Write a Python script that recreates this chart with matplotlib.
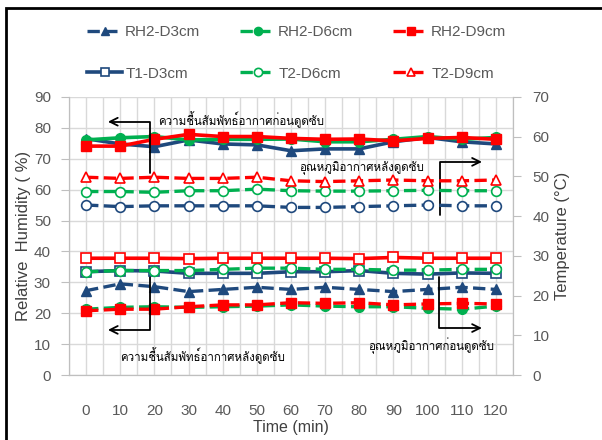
import numpy as np
import matplotlib
matplotlib.use("Agg")
import matplotlib.pyplot as plt
from matplotlib import font_manager
from matplotlib.patches import Rectangle

# เวลา (นาที)
time_min = [0, 10, 20, 30, 40, 50, 60, 70, 80, 90, 100, 110, 120]

# ความชื้นสัมพัทธ์ก่อนดูดซับ (%)
rh1_d3 = [76.5, 74.8, 73.9, 76.1, 74.8, 74.5, 72.6, 73.2, 73.2, 75.5, 76.9, 75.5, 74.8]
rh1_d6 = [76.1, 76.8, 77.2, 76.1, 76.3, 76.3, 76.4, 75.5, 75.5, 76.3, 77.2, 76.3, 76.9]
rh1_d9 = [74.1, 74.1, 76.3, 77.9, 77.2, 77.2, 76.6, 76.3, 76.4, 75.8, 76.6, 76.9, 76.3]

# ความชื้นสัมพัทธ์หลังดูดซับ (%)
rh2_d3 = [27.3, 29.5, 28.6, 27.0, 27.7, 28.4, 27.7, 28.4, 27.7, 27.0, 27.7, 28.4, 27.7]
rh2_d6 = [21.3, 21.9, 22.1, 21.9, 22.1, 22.3, 22.7, 22.3, 22.1, 22.1, 21.6, 21.3, 22.3]
rh2_d9 = [20.8, 21.3, 21.3, 22.1, 22.7, 22.7, 23.4, 23.2, 23.4, 22.7, 23.0, 23.2, 23.0]

# อุณหภูมิก่อนดูดซับ (°C)
t1_d3 = [26.0, 26.3, 26.2, 25.6, 25.6, 25.6, 26.0, 26.0, 26.3, 25.6, 25.4, 25.7, 25.6]
t1_d6 = [26.0, 26.3, 26.3, 26.3, 26.6, 26.9, 26.9, 26.6, 26.6, 26.4, 26.4, 26.6, 26.6]
t1_d9 = [29.4, 29.4, 29.4, 29.3, 29.4, 29.4, 29.4, 29.4, 29.3, 29.6, 29.4, 29.4, 29.4]

# อุณหภูมิหลังดูดซับ (°C)
t2_d3 = [42.8, 42.4, 42.6, 42.6, 42.6, 42.6, 42.2, 42.2, 42.4, 42.6, 42.8, 42.6, 42.6]
t2_d6 = [46.2, 46.2, 46.0, 46.4, 46.4, 46.8, 46.4, 46.3, 46.3, 46.4, 46.5, 46.4, 46.4]
t2_d9 = [49.8, 49.5, 49.8, 49.5, 49.5, 49.8, 48.9, 48.7, 48.9, 49.1, 48.9, 48.9, 49.1]

BLUE = "#1F497D"
GREEN = "#00B050"
RED = "#FF0000"
GRAY_TXT = "#595959"


def thai_family():
    """หาฟอนต์ที่มีตัวอักษรไทย (ถ้ามี)"""
    names = {f.name for f in font_manager.fontManager.ttflist}
    if "Loma" in names:
        return "Loma"
    try:
        from fontTools.ttLib import TTFont
    except ImportError:
        return None
    for f in font_manager.fontManager.ttflist:
        try:
            cmap = TTFont(f.fname, fontNumber=0, lazy=True).getBestCmap()
        except Exception:
            continue
        if cmap and 0x0E01 in cmap:
            return f.name
    return None


latin = ["Liberation Sans", "DejaVu Sans"]
th = thai_family()
thai_fam = ([th] if th else []) + ["DejaVu Sans"]
plt.rcParams["font.family"] = latin

fig = plt.figure(figsize=(6.02, 4.40), dpi=100)
ax = fig.add_axes([69 / 602, 1 - 375 / 440, 444 / 602, 278 / 440])
ax2 = ax.twinx()

lw_solid = 2.6
lw_dash = 2.4
ms = 7

# ก่อนดูดซับ (ไม่มีใน legend)
ax.plot(time_min, rh1_d3, "-", color=BLUE, lw=lw_solid, marker="^", ms=ms)
ax.plot(time_min, rh1_d6, "-", color=GREEN, lw=lw_solid, marker="o", ms=ms)
ax.plot(time_min, rh1_d9, "-", color=RED, lw=lw_solid, marker="s", ms=ms)

# หลังดูดซับ
l_rh2_d3, = ax.plot(time_min, rh2_d3, "--", color=BLUE, lw=lw_dash, marker="^", ms=ms)
l_rh2_d6, = ax.plot(time_min, rh2_d6, "--", color=GREEN, lw=lw_dash, marker="o", ms=ms)
l_rh2_d9, = ax.plot(time_min, rh2_d9, "--", color=RED, lw=lw_dash, marker="s", ms=ms)

# อุณหภูมิ (แกนขวา)
ow = dict(ms=ms, mfc="white", mew=1.2)
l_t1_d3, = ax2.plot(time_min, t1_d3, "-", color=BLUE, lw=lw_solid, marker="s", **ow)
ax2.plot(time_min, t1_d6, "--", color=GREEN, lw=lw_dash, marker="o", **ow)
ax2.plot(time_min, t1_d9, "-", color=RED, lw=lw_solid, marker="s", **ow)
ax2.plot(time_min, t2_d3, "--", color=BLUE, lw=lw_dash, marker="o", **ow)
l_t2_d6, = ax2.plot(time_min, t2_d6, "--", color=GREEN, lw=lw_dash, marker="o", **ow)
l_t2_d9, = ax2.plot(time_min, t2_d9, "--", color=RED, lw=lw_dash, marker="^", **ow)

# แกน
ax.set_xlim(-5, 125)
ax.set_ylim(0, 90)
ax2.set_ylim(0, 70)
ax.set_xticks(time_min)
ax.set_xticks(np.arange(-5, 126, 10), minor=True)
ax.set_yticks(np.arange(0, 91, 10))
ax2.set_yticks(np.arange(0, 71, 10))
ax.grid(True, which="both", axis="x", color="#d9d9d9", lw=1)
ax.grid(True, axis="y", color="#d9d9d9", lw=1)
ax.set_axisbelow(True)
ax.tick_params(axis="x", which="both", length=0, pad=21, labelsize=11, labelcolor=GRAY_TXT)
ax.tick_params(axis="y", length=6, color="#bfbfbf", labelsize=11, labelcolor=GRAY_TXT, pad=7)
ax2.tick_params(axis="y", length=6, color="#bfbfbf", labelsize=11, labelcolor=GRAY_TXT, pad=8)
for a in (ax, ax2):
    for s in a.spines.values():
        s.set_color("#bfbfbf")
ax.spines["top"].set_visible(False)
ax2.spines["top"].set_visible(False)

ax.set_xlabel("Time (min)", fontsize=11.5, color="#404040", labelpad=1)
ax.set_ylabel("Relative  Humidity ( %)", fontsize=12, color="#404040")
ax2.set_ylabel("Temperature (°C)", fontsize=12, color="#404040")
ax.yaxis.set_label_coords(-0.086, 0.5)
ax2.yaxis.set_label_coords(1.095, 0.5)

# คำอธิบายพร้อมลูกศร
arr = dict(arrowstyle="->", color="black", lw=1.3, shrinkA=0, shrinkB=0, mutation_scale=14,
           connectionstyle="angle,angleA=90,angleB=0,rad=0")
ax.annotate("", xy=(6.4, 82.0), xytext=(18.7, 65.4), arrowprops=arr)
ax.annotate("", xy=(115.9, 69.0), xytext=(103.6, 51.8), arrowprops=arr)
ax.annotate("", xy=(6.4, 14.6), xytext=(18.7, 34.0), arrowprops=arr)
ax.annotate("", xy=(115.9, 15.2), xytext=(103.4, 31.8), arrowprops=arr)

tkw = dict(family=thai_fam, fontsize=8.3, color="black", va="baseline")
ax.text(21.0, 80.9, "ความชื้นสัมพัทธ์อากาศก่อนดูดซับ", ha="left", **tkw)
ax.text(99.0, 66.0, "อุณหภูมิอากาศหลังดูดซับ", ha="right", **tkw)
ax.text(9.9, 4.5, "ความชื้นสัมพัทธ์อากาศหลังดูดซับ", ha="left", **tkw)
ax.text(119.4, 8.2, "อุณหภูมิอากาศก่อนดูดซับ", ha="right", **tkw)

# legend 3 คอลัมน์
cols = [
    ([l_rh2_d3, l_t1_d3], ["RH2-D3cm", "T1-D3cm"], 87),
    ([l_rh2_d6, l_t2_d6], ["RH2-D6cm", "T2-D6cm"], 240),
    ([l_rh2_d9, l_t2_d9], ["RH2-D9cm", "T2-D9cm"], 393),
]
for hs, labs, px in cols:
    leg = fig.legend(hs, labs, loc="upper left", bbox_to_anchor=(px / 602, 1 - 25 / 440),
                     frameon=False, borderpad=0, borderaxespad=0, fontsize=11,
                     handlelength=2.3, handletextpad=0.2, labelspacing=1.8, markerscale=0.85)
    for t in leg.get_texts():
        t.set_color(GRAY_TXT)

# กรอบรูป
fig.patches.append(Rectangle((6 / 602, -0.1), 1.2, 1.1 - 8 / 440, transform=fig.transFigure,
                             fill=False, lw=2, edgecolor="black"))

fig.savefig("out.png", dpi=100)
